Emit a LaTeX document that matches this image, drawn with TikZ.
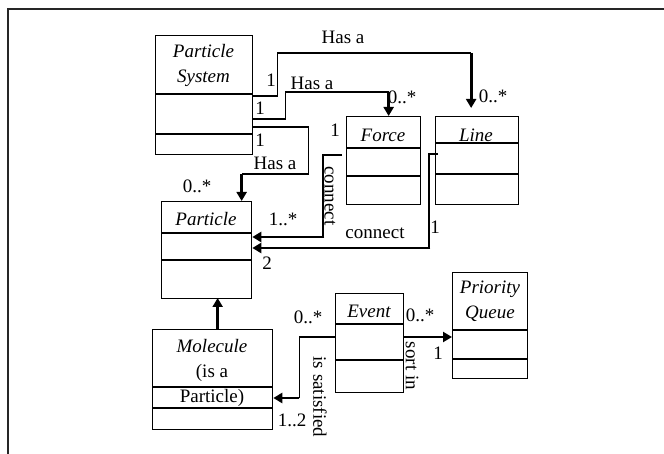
\documentclass[tikz,border=0pt]{standalone}
\usepackage{fontspec}
\setmainfont{Liberation Serif}
\usetikzlibrary{calc,arrows.meta}
\tikzset{
    cls/.style={draw, line width=1.3pt, anchor=north west, inner sep=0pt},
    sep/.style={line width=1.3pt},
    link/.style={draw, line width=1.3pt},
    head/.style={draw, line width=2.8pt, -{Triangle[length=9pt,width=10pt]}},
    title/.style={font=\fontsize{19}{25}\selectfont\itshape, align=center, inner sep=0pt},
    lbl/.style={font=\fontsize{19}{24}\selectfont, inner sep=0pt}
}

\begin{document}
\begin{tikzpicture}[x=1pt, y=-1pt]
\useasboundingbox (0,0) rectangle (664,454);
\draw[line width=1.2pt, black!85] (8,454) -- (8,9) -- (664,9);

% Classes
\node[cls, minimum width=97pt, minimum height=119pt]  (ps)       at (155,35)  {};
\node[cls, minimum width=74pt, minimum height=88pt]   (force)    at (346,116) {};
\node[cls, minimum width=83pt, minimum height=88pt]   (line)     at (435,116) {};
\node[cls, minimum width=90pt, minimum height=97pt]   (particle) at (161,201) {};
\node[cls, minimum width=120pt, minimum height=100pt] (molecule) at (152,329) {};
\node[cls, minimum width=68pt, minimum height=99pt]   (event)    at (335,293) {};
\node[cls, minimum width=75pt, minimum height=106pt]  (pq)       at (452,272) {};

% Compartments
\foreach \n/\a/\b in {ps/59/99, force/32/60, line/27/58, particle/32/59,
                      molecule/58/79, event/31/67, pq/58/87} {
  \draw[sep] ($(\n.north west)+(0,\a)$) -- ($(\n.north east)+(0,\a)$);
  \draw[sep] ($(\n.north west)+(0,\b)$) -- ($(\n.north east)+(0,\b)$);
}

% Names
\node[title] (psName)    at (203.5,65) {Particle\\System};
\node[title] (forceName) at (383,135)  {Force};
\node[title] (lineName)  at (476,135)  {Line};
\node[title] (partName)  at (206,219)  {Particle};
\node[title] (eventName) at (369,311)  {Event};
\node[title] (pqName)    at (490,301)  {Priority\\Queue};
\node[title] (molName)   at (212,373)  {Molecule\\\upshape(is a\\\upshape Particle)};

% Has a
\coordinate (lineTop) at ($(line.north)+(-6,-63)$);
\draw[link] ($(ps.north east)+(0,61)$) -- ++(24,0) |- (lineTop);
\draw[head] (lineTop) -- ($(line.north)+(-6,-8)$);

\coordinate (forceTop) at ($(force.north)+(5,-24)$);
\draw[link] ($(ps.north east)+(0,84)$) -- ++(32,0) |- (forceTop);
\draw[head] (forceTop) -- ($(force.north)+(5,0)$);

\coordinate (partTop) at ($(particle.north)+(35,-27)$);
\draw[link] ($(ps.north east)+(0,92)$) -- ++(55,0) |- (partTop);
\draw[head] (partTop) -- ($(particle.north)+(35,0)$);

% connect
\coordinate (conA) at ($(particle.north east)+(72,36)$);
\draw[link] ($(force.north west)+(-4,39)$) -- ++(-19,0) |- (conA);
\draw[head] (conA) -- ($(particle.north east)+(0,36)$);

\coordinate (conB) at ($(particle.north east)+(178,47)$);
\draw[link] ($(line.north west)+(3,38)$) -- ++(-9,0) |- (conB);
\draw[head] (conB) -- ($(particle.north east)+(0,47)$);

% is a
\draw[head] ($(molecule.north)+(5,0)$) -- ($(molecule.north)+(5,-31)$);

% sort in
\coordinate (sortA) at ($(event.north east)+(0,44)$);
\draw[head] (sortA) -- (sortA -| pq.west);

% is satisfied
\coordinate (satA) at ($(molecule.north east)+(26,69)$);
\draw[link] ($(event.north west)+(0,44)$) -| (satA);
\draw[head] (satA) -- ($(molecule.north east)+(0,69)$);

% Labels
\node[lbl] (hasA)   at (343,37)  {Has a};
\node[lbl] (mA1)    at (271,80)  {1};
\node[lbl] (mA2)    at (493,96)  {0..*};
\node[lbl] (hasB)   at (312,83)  {Has a};
\node[lbl] (mB1)    at (260,108) {1};
\node[lbl] (mB2)    at (402,97)  {0..*};
\node[lbl] (mC1)    at (260,140) {1};
\node[lbl] (hasC)   at (275,163) {Has a};
\node[lbl] (mC2)    at (197,186) {0..*};
\node[lbl] (mD1)    at (335,130) {1};
\node[lbl, rotate=-90] (conAL) at (330,196) {connect};
\node[lbl] (mD2)    at (283,219) {1..*};
\node[lbl] (conBL)  at (375,233) {connect};
\node[lbl] (mE1)    at (435,227) {1};
\node[lbl] (mE2)    at (267,263) {2};
\node[lbl] (mF1)    at (308,317) {0..*};
\node[lbl] (mF2)    at (292,420) {1..2};
\node[lbl, rotate=-90] (satL) at (320,397) {is satisfied};
\node[lbl] (mG1)    at (420,315) {0..*};
\node[lbl] (mG2)    at (438,353) {1};
\node[lbl, rotate=-90] (sortL) at (412,366) {sort in};
\end{tikzpicture}
\end{document}
